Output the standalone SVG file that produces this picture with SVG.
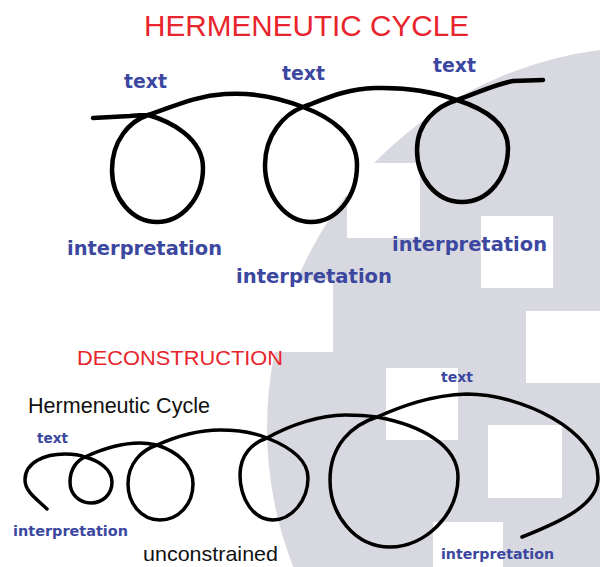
<svg xmlns="http://www.w3.org/2000/svg" width="600" height="567" viewBox="0 0 600 567">
<style>
.bg{fill:#d8d9e0}
.sq{fill:#ffffff}
.curve{fill:none;stroke:#000;stroke-linecap:round;stroke-linejoin:round}
.top{stroke-width:4.5}
.bot{stroke-width:3.5}
.red{fill:#e8242c;font-family:"Liberation Sans",Arial,sans-serif}
.blue{fill:#3c479f;font-family:"DejaVu Sans","Liberation Sans",sans-serif;font-weight:bold}
.blk{fill:#111;font-family:"Liberation Sans",Arial,sans-serif}
</style>
<rect width="600" height="567" fill="#ffffff"/>
<g id="background">
<circle class="bg" cx="648" cy="428" r="381"/>
<rect class="sq" x="347" y="163" width="73" height="75"/>
<rect class="sq" x="481" y="216" width="72" height="72"/>
<rect class="sq" x="526" y="311" width="74" height="72"/>
<rect class="sq" x="261" y="280" width="72" height="72"/>
<rect class="sq" x="386" y="368" width="72" height="72"/>
<rect class="sq" x="488" y="425" width="74" height="73"/>
<rect class="sq" x="433" y="522" width="70" height="45"/>
</g>
<g id="connectors">
<path id="hermeneutic-cycle-curve" class="curve top" d="M93,118 L130,116 C140,115 145,115 148,115 C170,121 203,138 203,168 C203,198 182,222 157,222 C132,222 112,198 112,170 C112,140 130,121 148,115 C175,106 195,96 225,94 C255,92 280,98 303,107 C330,117 357,135 357,165 C357,198 336,222 311,222 C286,222 265,196 265,165 C265,135 284,114 303,107 C325,99 345,89 375,88 C410,87 435,92 457,100 C482,108 508,122 508,148 C508,178 488,202 462,202 C436,202 417,178 417,150 C417,122 437,106 457,100 C475,94 495,84 513,81 L543,80"/>
<path id="deconstruction-curve" class="curve bot" d="M47,509 C38,500 25,492 25,480 C25,462 45,454 65,454 C75,454 80,455 85,457 C100,461 112,470 112,482 C112,495 102,503 91,503 C79,503 70,494 70,482 C70,468 78,460 85,457 C100,450 120,443 140,443 C148,443 152,444 157,445 C178,452 193,465 193,484 C193,505 178,520 160,520 C141,520 128,503 128,484 C128,463 142,450 157,445 C175,437 195,430 220,430 C240,430 255,433 267,438 C290,447 308,460 308,478 C308,500 292,520 273,520 C253,520 240,498 240,475 C240,455 252,443 267,438 C290,425 320,415 345,415 C360,415 370,416 377,417 C420,425 458,445 458,477 C458,515 425,547 390,547 C355,547 330,515 330,480 C330,445 352,425 377,417 C400,407 430,395 467,394 C520,394 598,430 598,478 C598,505 560,522 522,537"/>
</g>
<g id="title-hermeneutic"><text class="red" x="144" y="36" font-size="29" textLength="325" lengthAdjust="spacingAndGlyphs">HERMENEUTIC CYCLE</text></g>
<g id="top-text-1"><text class="blue" x="124" y="88" font-size="20" textLength="43" lengthAdjust="spacingAndGlyphs">text</text></g>
<g id="top-text-2"><text class="blue" x="282" y="80" font-size="20" textLength="43" lengthAdjust="spacingAndGlyphs">text</text></g>
<g id="top-text-3"><text class="blue" x="433" y="72" font-size="20" textLength="43" lengthAdjust="spacingAndGlyphs">text</text></g>
<g id="top-interp-1"><text class="blue" x="67" y="255" font-size="20" textLength="155" lengthAdjust="spacingAndGlyphs">interpretation</text></g>
<g id="top-interp-2"><text class="blue" x="236" y="283" font-size="20" textLength="156" lengthAdjust="spacingAndGlyphs">interpretation</text></g>
<g id="top-interp-3"><text class="blue" x="392" y="251" font-size="20" textLength="155" lengthAdjust="spacingAndGlyphs">interpretation</text></g>
<g id="title-deconstruction"><text class="red" x="77" y="365" font-size="21" textLength="206" lengthAdjust="spacingAndGlyphs">DECONSTRUCTION</text></g>
<g id="label-hermeneutic-cycle"><text class="blk" x="28" y="413" font-size="21.5" textLength="182" lengthAdjust="spacingAndGlyphs">Hermeneutic Cycle</text></g>
<g id="bottom-text-1"><text class="blue" x="37" y="443" font-size="14" textLength="31" lengthAdjust="spacingAndGlyphs">text</text></g>
<g id="bottom-interp-1"><text class="blue" x="13" y="536" font-size="14.5" textLength="115" lengthAdjust="spacingAndGlyphs">interpretation</text></g>
<g id="label-unconstrained"><text class="blk" x="143" y="561" font-size="21" textLength="135" lengthAdjust="spacingAndGlyphs">unconstrained</text></g>
<g id="bottom-text-2"><text class="blue" x="441" y="382" font-size="14" textLength="32" lengthAdjust="spacingAndGlyphs">text</text></g>
<g id="bottom-interp-2"><text class="blue" x="441" y="559" font-size="14.5" textLength="113" lengthAdjust="spacingAndGlyphs">interpretation</text></g>
</svg>
